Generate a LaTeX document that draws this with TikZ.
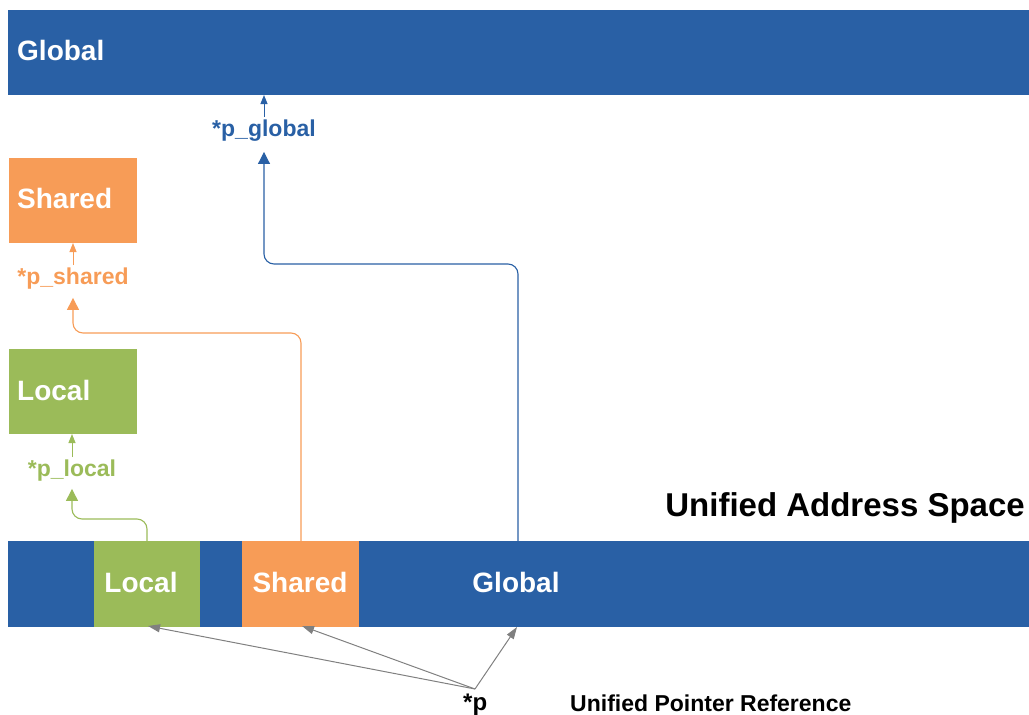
\documentclass[tikz,border=0pt]{standalone}
\usepackage{fontspec}
\setmainfont{Liberation Sans}
\usetikzlibrary{arrows.meta}
\definecolor{cblue}{RGB}{41,96,165}
\definecolor{corange}{RGB}{247,156,87}
\definecolor{cgreen}{RGB}{155,187,89}
\definecolor{cgray}{RGB}{128,128,128}
\tikzset{
  box/.style={draw=none, inner sep=0pt, outer sep=0pt, anchor=north west},
  boxtext/.style={text=white, font=\bfseries\fontsize{28}{30}\selectfont, inner sep=0pt},
  ptrlabel/.style={font=\bfseries\fontsize{23}{25}\selectfont, inner sep=0pt},
  bigtip/.style={-{Triangle[width=12pt,length=12pt]}},
  smalltip/.style={-{Triangle[width=7pt,length=9pt]}},
  link/.style={line width=1.1pt, rounded corners=10pt},
  grayarrow/.style={draw=cgray, line width=1pt, -{Triangle[width=8pt,length=12pt]}},
}
\begin{document}
\begin{tikzpicture}[x=1pt,y=-1pt]
\useasboundingbox (0,0) rectangle (1029,715);
% memory boxes
\node[box, fill=cblue, minimum width=1021pt, minimum height=85pt] (topglobal) at (8,10) {};
\node[boxtext, anchor=west] (topglobaltxt) at (17,50) {Global};
\node[box, fill=corange, minimum width=128pt, minimum height=85pt] (sharedbox) at (9,158) {};
\node[boxtext, anchor=west] (sharedtxt) at (17,198) {Shared};
\node[box, fill=cgreen, minimum width=128pt, minimum height=85pt] (localbox) at (9,349) {};
\node[boxtext, anchor=west] (localtxt) at (17,390) {Local};
% unified address space bar
\node[box, fill=cblue, minimum width=1021pt, minimum height=86pt] (bar) at (8,541) {};
\node[box, fill=cgreen, minimum width=106pt, minimum height=86pt] (lseg) at (94,541) {};
\node[box, fill=corange, minimum width=117pt, minimum height=86pt] (sseg) at (242,541) {};
\node[boxtext] (lsegtxt) at (141,582) {Local};
\node[boxtext] (ssegtxt) at (300,582) {Shared};
\node[boxtext] (gsegtxt) at (516,582) {Global};
\node[font=\bfseries\fontsize{33}{35}\selectfont, inner sep=0pt, anchor=east] (uas) at (1025,508) {Unified Address Space};
% pointer labels
\node[ptrlabel, text=cblue] (pglobal) at (264,131) {*p\_global};
\node[ptrlabel, text=corange] (pshared) at (73,279) {*p\_shared};
\node[ptrlabel, text=cgreen] (plocal) at (72,471) {*p\_local};
% small arrows into the memory boxes
\draw[draw=cblue, line width=1pt, smalltip] ([yshift=3pt]pglobal.north) -- (topglobal.south -| pglobal.north);
\draw[draw=corange, line width=1pt, smalltip] ([yshift=3pt]pshared.north) -- (sharedbox.south -| pshared.north);
\draw[draw=cgreen, line width=1pt, smalltip] ([yshift=3pt]plocal.north) -- (localbox.south -| plocal.north);
% connectors from unified space
\coordinate (gsrc) at (518,541);
\coordinate (ssrc) at (301,541);
\coordinate (lsrc) at (147,541);
\draw[link, draw=cblue, bigtip] (gsrc) -- (gsrc |- 0,264) -- (pglobal.south |- 0,264) -- ([yshift=-10pt]pglobal.south);
\draw[link, draw=corange, bigtip] (ssrc) -- (ssrc |- 0,333) -- (pshared.south |- 0,333) -- ([yshift=-8pt]pshared.south);
\draw[link, draw=cgreen, bigtip] (lsrc) -- (lsrc |- 0,519) -- (plocal.south |- 0,519) -- ([yshift=-7pt]plocal.south);
% unified pointer
\node[font=\bfseries\fontsize{24}{26}\selectfont, inner sep=0pt, anchor=base west] (p) at (463,710) {*p};
\node[font=\bfseries\fontsize{23}{25}\selectfont, inner sep=0pt, anchor=base west] (upr) at (570,711) {Unified Pointer Reference};
\coordinate (pt) at (475,689);
\coordinate (lt) at (148,626);
\coordinate (st) at (302,626);
\coordinate (gt) at (517,627);
\draw[grayarrow] (pt) -- (lt);
\draw[grayarrow] (pt) -- (st);
\draw[grayarrow] (pt) -- (gt);
\end{tikzpicture}
\end{document}
